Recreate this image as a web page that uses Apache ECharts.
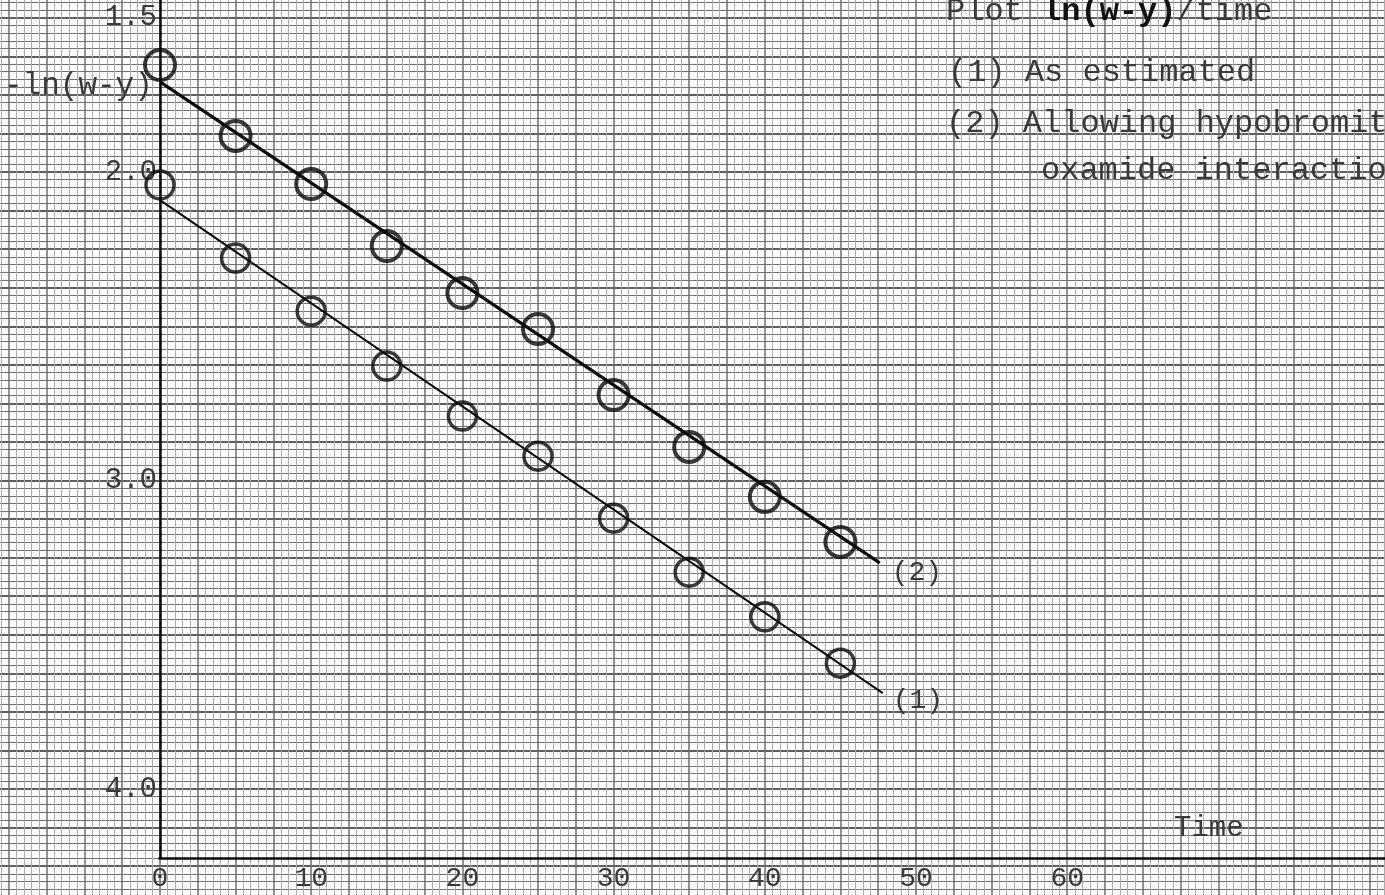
<!DOCTYPE html>
<html><head><meta charset="utf-8">
<script src="https://cdn.jsdelivr.net/npm/echarts@6/dist/echarts.min.js"></script>
<style>html,body{margin:0;padding:0;background:#fff}#c{width:1385px;height:895px}</style>
</head><body><div id="c"></div>
<script>
// ---- data ----
const TIME = [0, 5, 10, 15, 20, 25, 30, 35, 40, 45];
const SERIES1 = [2.042, 2.279, 2.451, 2.629, 2.791, 2.921, 3.122, 3.297, 3.442, 3.592]; // (1) As estimated
const SERIES2 = [1.653, 1.883, 2.039, 2.240, 2.392, 2.509, 2.723, 2.891, 3.053, 3.199]; // (2) Allowing hypobromite/oxamide
const FIT1 = [[0, 2.091], [47.8, 3.689]];
const FIT2 = [[0, 1.708], [47.6, 3.267]];
const X_TICKS = [0, 10, 20, 30, 40, 50, 60];
const Y_TICKS = [1.5, 2.0, 3.0, 4.0];
const X_AXIS_LEVEL = 4.224;   // where the time axis is drawn on the paper
const X_END = 82.5;

const FONT = '"Liberation Mono", "DejaVu Sans Mono", monospace';
const INK = '#0a0a0a';
const TXT = '#3a3a3a';

const pts = (ys) => TIME.map((t, i) => [t, ys[i]]);

const chart = echarts.init(document.getElementById('c'), null, {renderer: 'canvas'});
chart.setOption({
  animation: false,
  backgroundColor: '#ffffff',
  grid: {left: -29, right: -22.4, top: -20.8, bottom: -9.7, containLabel: false, outerBoundsMode: 'none'},
  xAxis: {
    type: 'value', min: -12.5, max: X_END, interval: 2.5,
    position: 'bottom', offset: -46.7,
    axisLine: {show: false, onZero: false},
    axisTick: {show: false},
    minorTick: {show: false, splitNumber: 5},
    splitLine: {show: true, lineStyle: {color: '#6e6e6e', width: 1.5}},
    minorSplitLine: {show: true, lineStyle: {color: '#ababab', width: 1}},
    axisLabel: {
      margin: 7, fontFamily: FONT, fontSize: 28, color: TXT,
      formatter: v => X_TICKS.some(t => Math.abs(t - v) < 1e-6) ? String(Math.round(v)) : ''
    }
  },
  yAxis: {
    type: 'value', inverse: true, min: 1.375, max: 4.375, interval: 0.125,
    position: 'left', offset: -189,
    axisLine: {show: false, onZero: false},
    axisTick: {show: false},
    minorTick: {show: false, splitNumber: 5},
    splitLine: {show: true, lineStyle: {color: '#2a2a2a', width: 1.6}},
    minorSplitLine: {show: true, lineStyle: {color: '#707070', width: 1}},
    axisLabel: {
      margin: 3, fontFamily: FONT, fontSize: 29, color: TXT,
      formatter: v => Y_TICKS.some(t => Math.abs(t - v) < 1e-6) ? v.toFixed(1) : ''
    }
  },
  series: [
    {
      name: '(2)', type: 'line', data: FIT2, symbol: 'none', z: 5,
      lineStyle: {color: INK, width: 3.2},
      endLabel: {show: true, formatter: '(2)', fontFamily: FONT, fontSize: 28, color: TXT, offset: [4, 10]},
      markLine: {
        silent: true, symbol: 'none', label: {show: false},
        lineStyle: {color: INK, width: 2.5, type: 'solid'},
        data: [
          [{coord: [0, 1.375]}, {coord: [0, X_AXIS_LEVEL]}],
          [{coord: [-0.1, X_AXIS_LEVEL]}, {coord: [X_END, X_AXIS_LEVEL]}]
        ]
      }
    },
    {
      name: '(1)', type: 'line', data: FIT1, symbol: 'none', z: 5,
      lineStyle: {color: INK, width: 2},
      endLabel: {show: true, formatter: '(1)', fontFamily: FONT, fontSize: 28, color: TXT, offset: [2, 8]}
    },
    {
      name: 'As estimated', type: 'scatter', data: pts(SERIES1), z: 6,
      symbol: 'circle', symbolSize: 28,
      itemStyle: {color: 'rgba(0,0,0,0)', borderColor: INK, borderWidth: 3.5}
    },
    {
      name: 'Allowing hypobromite', type: 'scatter', data: pts(SERIES2), z: 6,
      symbol: 'circle', symbolSize: 30,
      itemStyle: {color: 'rgba(0,0,0,0)', borderColor: INK, borderWidth: 4}
    }
  ],
  graphic: [
    {type: 'text', left: 946, top: -4, z: 100, style: {
      text: '{n|Plot }{b|ln(w-y)}{n|/time}',
      rich: {
        n: {fontFamily: FONT, fontSize: 32, fill: TXT},
        b: {fontFamily: FONT, fontSize: 32, fill: '#111', fontWeight: 'bold'}
      }
    }},
    {type: 'text', left: 948, top: 57, z: 100, style: {text: '(1) As estimated', font: '32px ' + FONT, fill: TXT}},
    {type: 'text', left: 946, top: 108, z: 100, style: {text: '(2) Allowing hypobromite-', font: '32px ' + FONT, fill: TXT}},
    {type: 'text', left: 1041, top: 155, z: 100, style: {text: 'oxamide interaction', font: '32px ' + FONT, fill: TXT}},
    {type: 'text', left: 4, top: 70, z: 100, style: {text: '-ln(w-y)', font: '31px ' + FONT, fill: TXT}},
    {type: 'text', left: 1174, top: 814, z: 100, style: {text: 'Time', font: '29px ' + FONT, fill: TXT}}
  ]
});
</script></body></html>
